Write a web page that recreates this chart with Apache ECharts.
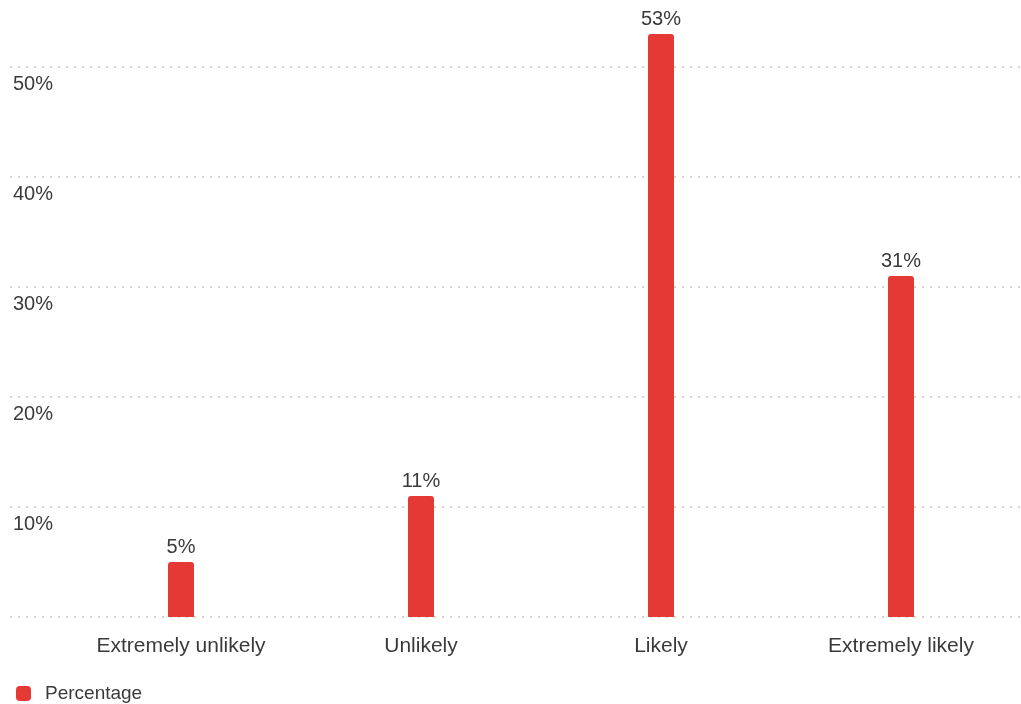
<!DOCTYPE html>
<html>
<head>
<meta charset="utf-8">
<script src="https://cdn.jsdelivr.net/npm/echarts@6/dist/echarts.min.js"></script>
<style>
  html, body { margin: 0; padding: 0; background: #fff; }
  #chart { width: 1021px; height: 704px; }
</style>
</head>
<body>
<div id="chart"></div>
<script>
// Survey responses: share of respondents per answer
const categories = ['Extremely unlikely', 'Unlikely', 'Likely', 'Extremely likely'];
const percentages = [5, 11, 53, 31];
const seriesName = 'Percentage';
const yTicks = [0, 10, 20, 30, 40, 50];
const yTop = 55;

const FONT = '"Liberation Sans", Arial, sans-serif';
const TEXT = '#3a3a3a';
const GUIDE = '#d2d2d2';
const yMin = yTicks[0];
const yStep = yTicks[1] - yTicks[0];

// one colour per guide line; the line at the axis top stays invisible
const guideColors = yTicks.map(() => GUIDE).concat(['rgba(0,0,0,0)']);

const chart = echarts.init(document.getElementById('chart'), null, { renderer: 'canvas' });

chart.setOption({
  animation: false,
  backgroundColor: '#ffffff',
  textStyle: { fontFamily: FONT },
  grid: [
    // background grid carrying the dotted guide lines and value labels
    { left: 10, right: 0, top: 12, bottom: 87 },
    // plotting area for the bars
    { left: 61, right: -4, top: 12, bottom: 87 }
  ],
  legend: {
    left: 16,
    top: 684,
    padding: 0,
    icon: 'roundRect',
    itemWidth: 15,
    itemHeight: 15,
    textStyle: { fontFamily: FONT, fontSize: 19, color: TEXT, padding: [0, 0, 0, 9] },
    data: [seriesName]
  },
  xAxis: [
    { type: 'value', gridIndex: 0, show: false, min: 0, max: 1 },
    {
      type: 'category',
      gridIndex: 1,
      data: categories,
      axisLine: { show: false },
      axisTick: { show: false },
      splitLine: { show: false },
      axisLabel: { fontFamily: FONT, fontSize: 21, color: TEXT, margin: 19 }
    }
  ],
  yAxis: [
    {
      type: 'value',
      gridIndex: 0,
      min: yMin,
      max: yTop,
      interval: yStep,
      axisLine: { show: false },
      axisTick: { show: false },
      splitLine: {
        show: true,
        lineStyle: { color: guideColors, width: 2, type: [2, 6] }
      },
      axisLabel: {
        inside: true,
        margin: 3,
        fontFamily: FONT,
        fontSize: 20,
        color: TEXT,
        verticalAlign: 'top',
        lineHeight: 20,
        padding: [7, 0, 0, 0],
        formatter: v => (yTicks.indexOf(v) > 0 ? v + '%' : '')
      }
    },
    { type: 'value', gridIndex: 1, show: false, min: yMin, max: yTop, interval: yStep }
  ],
  series: [
    {
      name: seriesName,
      type: 'bar',
      xAxisIndex: 1,
      yAxisIndex: 1,
      data: percentages,
      barWidth: 26,
      itemStyle: { color: '#e53935', borderRadius: [3, 3, 0, 0] },
      label: {
        show: true,
        position: 'top',
        distance: 5,
        fontFamily: FONT,
        fontSize: 20,
        color: TEXT,
        formatter: p => p.value + '%'
      }
    }
  ]
});
</script>
</body>
</html>
